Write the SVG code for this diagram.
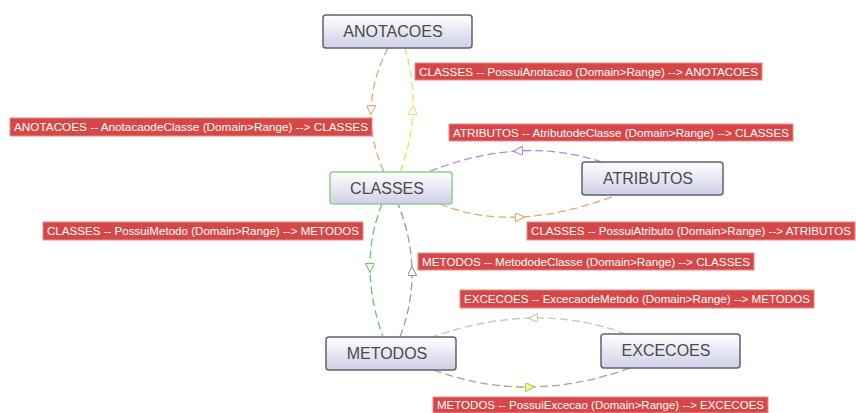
<svg xmlns="http://www.w3.org/2000/svg" width="856" height="413" viewBox="0 0 856 413">
<defs>
<linearGradient id="g" x1="0" y1="0" x2="0" y2="1">
<stop offset="0" stop-color="#ffffff"/>
<stop offset="1" stop-color="#cfcfe8"/>
</linearGradient>
<marker id="aOr" viewBox="0 0 10 10" refX="5" refY="5" markerWidth="10" markerHeight="9" markerUnits="userSpaceOnUse" orient="auto"><path d="M0,0 L10,5 L0,10 Z" fill="#fff" stroke="#e0a870" stroke-width="1.2"/></marker>
<marker id="aYe" viewBox="0 0 10 10" refX="5" refY="5" markerWidth="10" markerHeight="9" markerUnits="userSpaceOnUse" orient="auto"><path d="M0,0 L10,5 L0,10 Z" fill="#fff" stroke="#f0dc60" stroke-width="1.2"/></marker>
<marker id="aPu" viewBox="0 0 10 10" refX="5" refY="5" markerWidth="10" markerHeight="9" markerUnits="userSpaceOnUse" orient="auto"><path d="M0,0 L10,5 L0,10 Z" fill="#fff" stroke="#b088e0" stroke-width="1.2"/></marker>
<marker id="aGr" viewBox="0 0 10 10" refX="5" refY="5" markerWidth="10" markerHeight="9" markerUnits="userSpaceOnUse" orient="auto"><path d="M0,0 L10,5 L0,10 Z" fill="#fff" stroke="#70c070" stroke-width="1.2"/></marker>
<marker id="aGy" viewBox="0 0 10 10" refX="5" refY="5" markerWidth="10" markerHeight="9" markerUnits="userSpaceOnUse" orient="auto"><path d="M0,0 L10,5 L0,10 Z" fill="#fff" stroke="#999999" stroke-width="1.2"/></marker>
<marker id="aLt" viewBox="0 0 10 10" refX="5" refY="5" markerWidth="10" markerHeight="9" markerUnits="userSpaceOnUse" orient="auto"><path d="M0,0 L10,5 L0,10 Z" fill="#fff" stroke="#c4c8b0" stroke-width="1.2"/></marker>
<marker id="aOl" viewBox="0 0 10 10" refX="5" refY="5" markerWidth="10" markerHeight="9" markerUnits="userSpaceOnUse" orient="auto"><path d="M0,0 L10,5 L0,10 Z" fill="#f4f4a8" stroke="#c0c050" stroke-width="1.2"/></marker>
</defs>
<style>
.node rect{fill:url(#g);stroke:#606070;stroke-width:1.5}
.node.sel rect{stroke:#8cd08c}
.node text{font-family:"Liberation Sans",Arial,sans-serif;font-size:16px;fill:#4a4a4a;text-anchor:middle}
.edge{fill:none;stroke-width:1.3;stroke-dasharray:8 4}
.lbl rect{fill:#d64848;stroke:#e88a8a;stroke-width:1}
.lbl text{font-family:"Liberation Sans",Arial,sans-serif;font-size:10px;fill:#ffffff;lengthAdjust:spacingAndGlyphs}
</style>
<rect width="856" height="413" fill="#ffffff"/>
<g id="connectors">
<path class="edge" stroke="#e0a870" marker-mid="url(#aOr)" d="M388,48 Q372,79 371,110 Q370,141 384,172"/>
<path class="edge" stroke="#f0dc60" marker-mid="url(#aYe)" d="M400,172 Q411.75,141 413,110 Q414.25,79 405,48"/>
<path class="edge" stroke="#b088e0" marker-mid="url(#aPu)" d="M602,162 Q561.5,148.5 518,151 Q474.5,153.5 428,172"/>
<path class="edge" stroke="#e0a870" marker-mid="url(#aOr)" d="M440,204 Q476.5,219 520,217 Q563.5,215 614,196"/>
<path class="edge" stroke="#70c070" marker-mid="url(#aGr)" d="M382,204 Q369.75,234.75 370,268 Q370.25,301.25 383,337"/>
<path class="edge" stroke="#999999" marker-mid="url(#aGy)" d="M400,337 Q412.5,304.25 412,271 Q411.5,237.75 398,204"/>
<path class="edge" stroke="#c4c8b0" marker-mid="url(#aLt)" d="M626,334 Q581.5,317.25 533,318 Q484.5,318.75 432,337"/>
<path class="edge" stroke="#a8a880" marker-mid="url(#aOl)" d="M434,370 Q481,387.5 530,387 Q579,386.5 630,368"/>
</g>
<g id="labels">
<g class="lbl"><rect x="415" y="63" width="347" height="17"/><text x="419" y="75.5" textLength="339" lengthAdjust="spacingAndGlyphs">CLASSES -- PossuiAnotacao (Domain&gt;Range) --&gt; ANOTACOES</text></g>
<g class="lbl"><rect x="10" y="118" width="362" height="18"/><text x="14" y="131" textLength="354" lengthAdjust="spacingAndGlyphs">ANOTACOES -- AnotacaodeClasse (Domain&gt;Range) --&gt; CLASSES</text></g>
<g class="lbl"><rect x="43" y="222" width="320" height="18"/><text x="47" y="235" textLength="312" lengthAdjust="spacingAndGlyphs">CLASSES -- PossuiMetodo (Domain&gt;Range) --&gt; METODOS</text></g>
<g class="lbl"><rect x="449" y="124" width="344" height="17"/><text x="453" y="136.5" textLength="336" lengthAdjust="spacingAndGlyphs">ATRIBUTOS -- AtributodeClasse (Domain&gt;Range) --&gt; CLASSES</text></g>
<g class="lbl"><rect x="527" y="222" width="328" height="18"/><text x="531" y="235" textLength="320" lengthAdjust="spacingAndGlyphs">CLASSES -- PossuiAtributo (Domain&gt;Range) --&gt; ATRIBUTOS</text></g>
<g class="lbl"><rect x="418" y="253" width="336" height="17"/><text x="422" y="265.5" textLength="328" lengthAdjust="spacingAndGlyphs">METODOS -- MetododeClasse (Domain&gt;Range) --&gt; CLASSES</text></g>
<g class="lbl"><rect x="460" y="290" width="354" height="18"/><text x="464" y="303" textLength="346" lengthAdjust="spacingAndGlyphs">EXCECOES -- ExcecaodeMetodo (Domain&gt;Range) --&gt; METODOS</text></g>
<g class="lbl"><rect x="433" y="397" width="335" height="16"/><text x="437" y="409" textLength="327" lengthAdjust="spacingAndGlyphs">METODOS -- PossuiExcecao (Domain&gt;Range) --&gt; EXCECOES</text></g>
</g>
<g id="ANOTACOES" class="node"><rect x="323" y="15" width="149" height="33" rx="3"/><text x="393" y="37">ANOTACOES</text></g>
<g id="CLASSES" class="node sel"><rect x="330" y="172" width="122" height="32" rx="3"/><text x="387" y="194">CLASSES</text></g>
<g id="ATRIBUTOS" class="node"><rect x="582" y="162" width="141" height="33" rx="3"/><text x="648" y="184">ATRIBUTOS</text></g>
<g id="METODOS" class="node"><rect x="326" y="337" width="130" height="33" rx="3"/><text x="387" y="359">METODOS</text></g>
<g id="EXCECOES" class="node"><rect x="601" y="334" width="139" height="34" rx="3"/><text x="666" y="356">EXCECOES</text></g>
</svg>
